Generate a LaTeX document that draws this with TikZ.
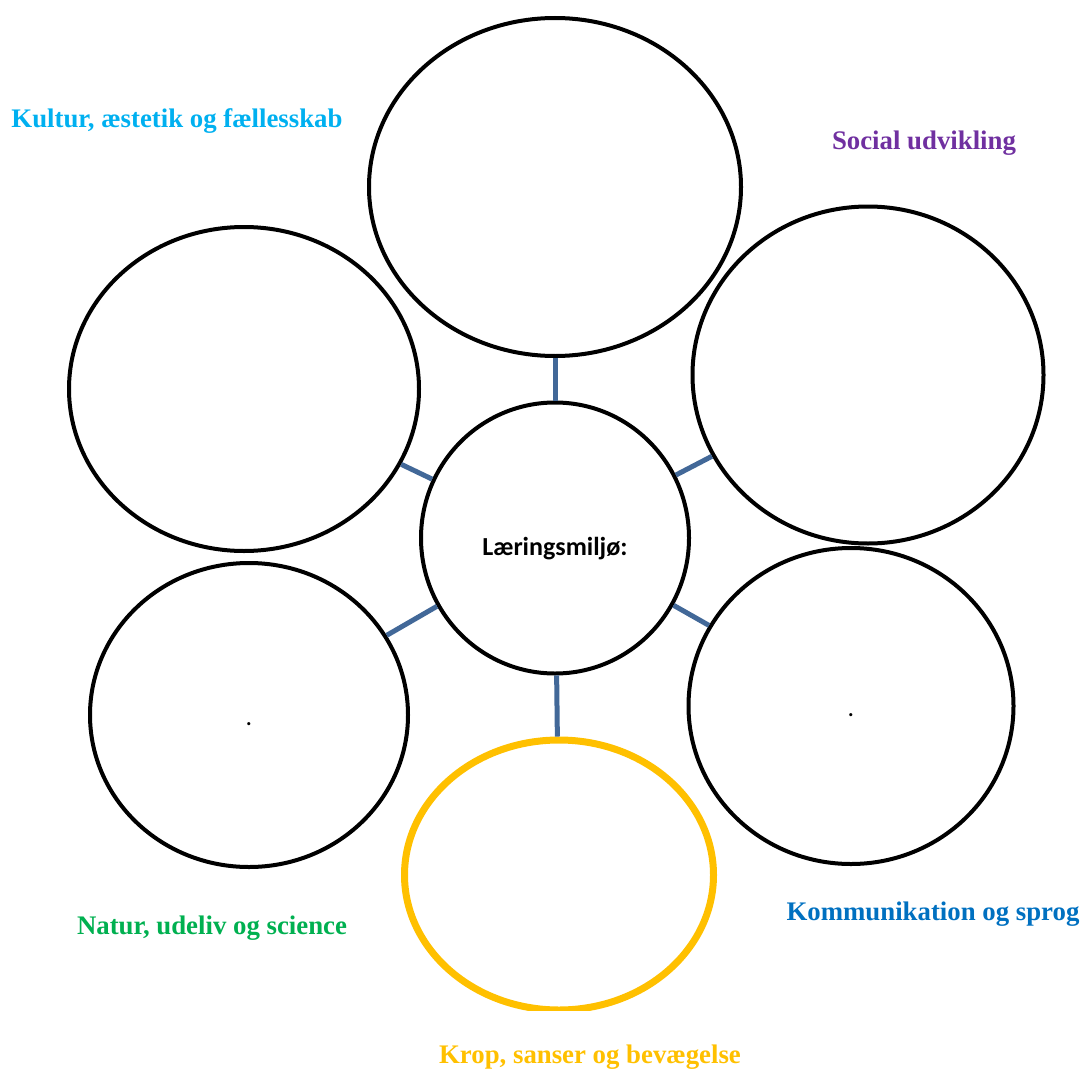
\documentclass[tikz,border=0pt]{standalone}
\usepackage{fontspec}
\setmainfont{Liberation Serif}
\newfontfamily\calib{Carlito}
\usetikzlibrary{shapes.geometric}
\definecolor{linkc}{RGB}{66,104,152}
\definecolor{kultc}{RGB}{0,176,240}
\definecolor{socc}{RGB}{112,48,160}
\definecolor{natc}{RGB}{0,176,80}
\definecolor{komc}{RGB}{0,112,192}
\definecolor{kropc}{RGB}{255,192,0}
\begin{document}
\begin{tikzpicture}[x=0.5pt,y=-0.5pt,
  bubble/.style={ellipse,draw=black,line width=2pt,inner sep=0pt,fill=none},
  link/.style={draw=linkc,line width=2.5pt},
  lab/.style={font=\fontsize{13.4}{15}\selectfont\bfseries,inner sep=0pt}]
\useasboundingbox (0,0) rectangle (1081,1070);
\node[bubble,minimum width=186pt,minimum height=169pt] (top) at (555,187) {};
\node[bubble,minimum width=175pt,minimum height=162pt] (ul) at (244,389) {};
\node[bubble,minimum width=175.5pt,minimum height=168.5pt] (ur) at (868,375) {};
\node[bubble,minimum width=134pt,minimum height=135.5pt] (c) at (555,538) {};
\node[bubble,minimum width=159pt,minimum height=152pt] (ll) at (249,715) {};
\node[bubble,minimum width=162.5pt,minimum height=158pt] (lr) at (851,706) {};
\begin{scope}
\clip (0,0) rectangle (1081,1010);
\node[bubble,draw=kropc,line width=3.5pt,minimum width=154.5pt,minimum height=135pt] (bot) at (559,875) {};
\end{scope}
\draw[link] (c) -- (top);
\draw[link] (c) -- (ul);
\draw[link] (c) -- (ur);
\draw[link] (c) -- (ll);
\draw[link] (c) -- (lr);
\draw[link] (c) -- (bot);
\node[font=\calib\fontsize{13}{15}\selectfont\bfseries,inner sep=0pt] (cl) at (555,549) {Læringsmiljø:};
\node[font=\calib\fontsize{13}{15}\selectfont,inner sep=0pt,anchor=base] (d1) at (249,725) {.};
\node[font=\calib\fontsize{13}{15}\selectfont,inner sep=0pt,anchor=base] (d2) at (851,716) {.};
\node[lab,text=kultc] (l1) at (177,121) {Kultur, æstetik og fællesskab};
\node[lab,text=socc] (l2) at (924,143) {Social udvikling};
\node[lab,text=natc] (l3) at (212,928) {Natur, udeliv og science};
\node[lab,text=komc] (l4) at (933,914) {Kommunikation og sprog};
\node[lab,text=kropc] (l5) at (590,1057) {Krop, sanser og bevægelse};
\end{tikzpicture}
\end{document}
